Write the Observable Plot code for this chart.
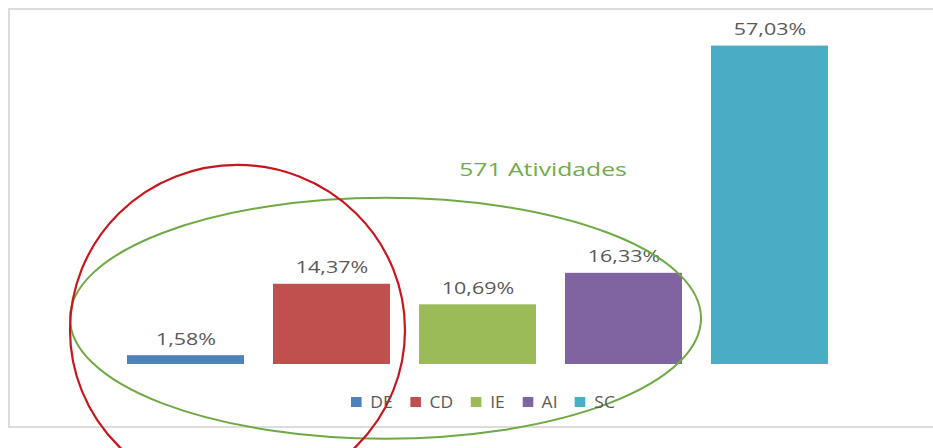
<!DOCTYPE html>
<html>
<head>
<meta charset="utf-8">
<script src="https://cdn.jsdelivr.net/npm/d3@7"></script>
<script src="https://cdn.jsdelivr.net/npm/@observablehq/plot@0.6"></script>
<style>
  html, body { margin: 0; padding: 0; background: #fff; }
  #wrap { position: relative; width: 933px; height: 448px; overflow: hidden; background: #fff; }
  #border { position: absolute; left: 8px; top: 8px; width: 960px; height: 420px; border: 2px solid #dcdcdc; box-sizing: border-box; }
  #chart { position: absolute; left: 0; top: 0; }
  #legend { position: absolute; left: 351px; top: 385px; transform: scaleX(1.06); transform-origin: left center; }
</style>
</head>
<body>
<div id="wrap">
  <div id="border"></div>
  <div id="chart"></div>
  <div id="legend"></div>
</div>
<script>
const categories = ["DE", "CD", "IE", "AI", "SC"];
const values = [1.58, 14.37, 10.69, 16.33, 57.03];
const valueLabels = ["1,58%", "14,37%", "10,69%", "16,33%", "57,03%"];
const colors = ["#4f81bd", "#c0504d", "#9bbb59", "#8064a2", "#4bacc6"];
const note = "571 Atividades";

const data = categories.map((c, i) => ({cat: c, value: values[i], label: valueLabels[i]}));

const ellipses = (index, scales, vals, dims) => {
  const x = scales.x, y = scales.y, bw = x.bandwidth();
  const g = d3.create("svg:g").attr("fill", "none");
  // green ellipse around DE..AI
  const gl = x("DE") - 57, gr = x("AI") + bw + 19;
  g.append("ellipse")
    .attr("cx", (gl + gr) / 2).attr("cy", y(8.2))
    .attr("rx", (gr - gl) / 2).attr("ry", 120.5)
    .attr("stroke", "#6fa845").attr("stroke-width", 2);
  // red ellipse around DE..CD
  const rl = x("DE") - 57, rr = x("CD") + bw + 15;
  g.append("ellipse")
    .attr("cx", (rl + rr) / 2).attr("cy", y(6.1))
    .attr("rx", (rr - rl) / 2).attr("ry", 165)
    .attr("stroke", "#c8161d").attr("stroke-width", 2.2);
  return g.node();
};

const chart = Plot.plot({
  width: 933,
  height: 448,
  marginLeft: 111,
  marginRight: 89,
  marginTop: 29,
  marginBottom: 84,
  x: {domain: categories, paddingInner: 0.2, paddingOuter: 0.1, axis: null},
  y: {domain: [0, 60], axis: null},
  color: {domain: categories, range: colors},
  style: {background: "transparent", fontFamily: "'Open Sans', sans-serif", overflow: "visible"},
  marks: [
    Plot.barY(data, {x: "cat", y: "value", fill: "cat"}),
    Plot.text(data, {x: "cat", y: "value", text: "label", dy: -11, lineAnchor: "bottom", fill: "#595959", fontSize: 16.5, className: "vlabel"}),
    Plot.text([note], {x: () => "IE", y: () => 33.7, dx: 65, text: d => d, lineAnchor: "bottom", fill: "#72aa48", fontSize: 19, className: "note"}),
    ellipses
  ]
});
document.getElementById("chart").appendChild(chart);

// horizontally widen text like the reference rendering
d3.select(chart).selectAll("text").each(function () {
  const len = this.getComputedTextLength();
  if (len > 0) {
    this.setAttribute("textLength", len * 1.3);
    this.setAttribute("lengthAdjust", "spacingAndGlyphs");
  }
});

const legend = Plot.legend({
  color: {domain: categories, range: colors},
  legend: "swatches",
  swatchSize: 10,
  style: {fontSize: "16.5px", color: "#595959", fontFamily: "'Open Sans', sans-serif"}
});
document.getElementById("legend").appendChild(legend);
</script>
</body>
</html>
